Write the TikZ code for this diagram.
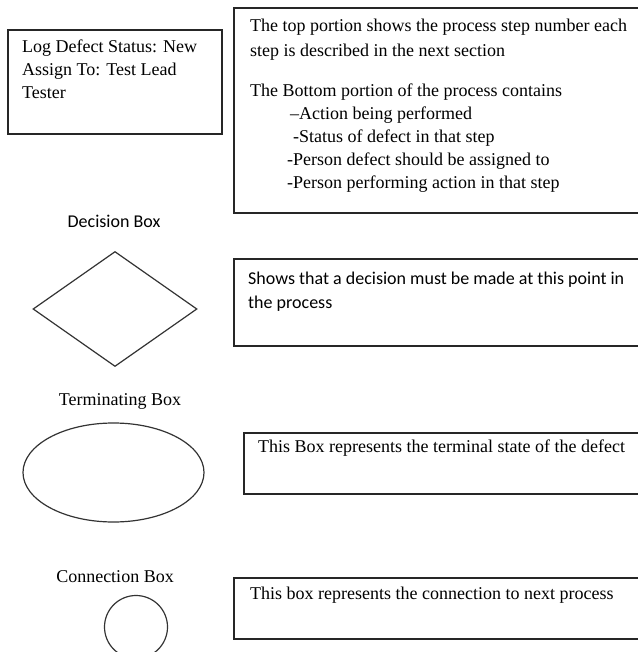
\documentclass[tikz,border=0pt]{standalone}
\usepackage{fontspec}
\setmainfont{Liberation Serif}
\newfontfamily\legendsans{Carlito}
\usetikzlibrary{positioning,shapes.geometric}

\begin{document}
\begin{tikzpicture}[
    x=1pt, y=-1pt,
    box/.style={draw=black!85, line width=1.6pt, anchor=north west, inner sep=0pt},
    outline/.style={draw=black!80, line width=1.2pt, inner sep=0pt},
    serif/.style={font=\fontsize{18}{23}\selectfont, inner sep=0pt, align=left, anchor=base west},
    sans/.style={font=\legendsans\fontsize{18}{24}\selectfont, inner sep=0pt, align=left, anchor=base west},
  ]
    \useasboundingbox (0,0) rectangle (637,652);

    % step box
    \node[box, minimum width=214pt, minimum height=104pt] (stepbox) at (7,29) {};
    \node[serif, anchor=north west] (steptext) at (22,39.7) {Log Defect Status: New\\Assign To: Test Lead\\Tester};

    \node[box, minimum width=412pt, minimum height=205pt] (stepnote) at (233,7) {};
    \node[serif, anchor=north west, font=\fontsize{18}{25}\selectfont] (stepnotetop) at (250,18.7)
      {The top portion shows the process step number each\\step is described in the next section};
    \node[serif, anchor=north west] (stepnotebottom) at (250,83.7) {The Bottom portion of the process contains\\
      \hspace*{40pt}--Action being performed\\
      \hspace*{43pt}-Status of defect in that step\\
      \hspace*{37pt}-Person defect should be assigned to\\
      \hspace*{37pt}-Person performing action in that step};

    % decision
    \node[sans, anchor=base] (decisionlabel) at (114,227) {Decision Box};
    \node[outline, diamond, minimum width=164pt, minimum height=115pt] (decision) at (115,309) {};
    \node[box, minimum width=412pt, minimum height=87pt] (decisionnote) at (233,258) {};
    \node[sans, anchor=north west] (decisiontext) at (248,271.6)
      {Shows that a decision must be made at this point in\\the process};

    % terminating
    \node[serif, anchor=base] (termlabel) at (120,405) {Terminating Box};
    \node[outline, ellipse, minimum width=181pt, minimum height=99pt] (term) at (113.5,472.5) {};
    \node[box, minimum width=402pt, minimum height=61pt] (termnote) at (243,432) {};
    \node[serif] (termtext) at (258,452) {This Box represents the terminal state of the defect};

    % connection
    \node[serif, anchor=base] (connlabel) at (115,582) {Connection Box};
    \node[outline, circle, minimum size=63pt] (conn) at (136,627) {};
    \node[box, minimum width=412pt, minimum height=61pt] (connnote) at (233,577) {};
    \node[serif] (conntext) at (250,599) {This box represents the connection to next process};
\end{tikzpicture}
\end{document}
